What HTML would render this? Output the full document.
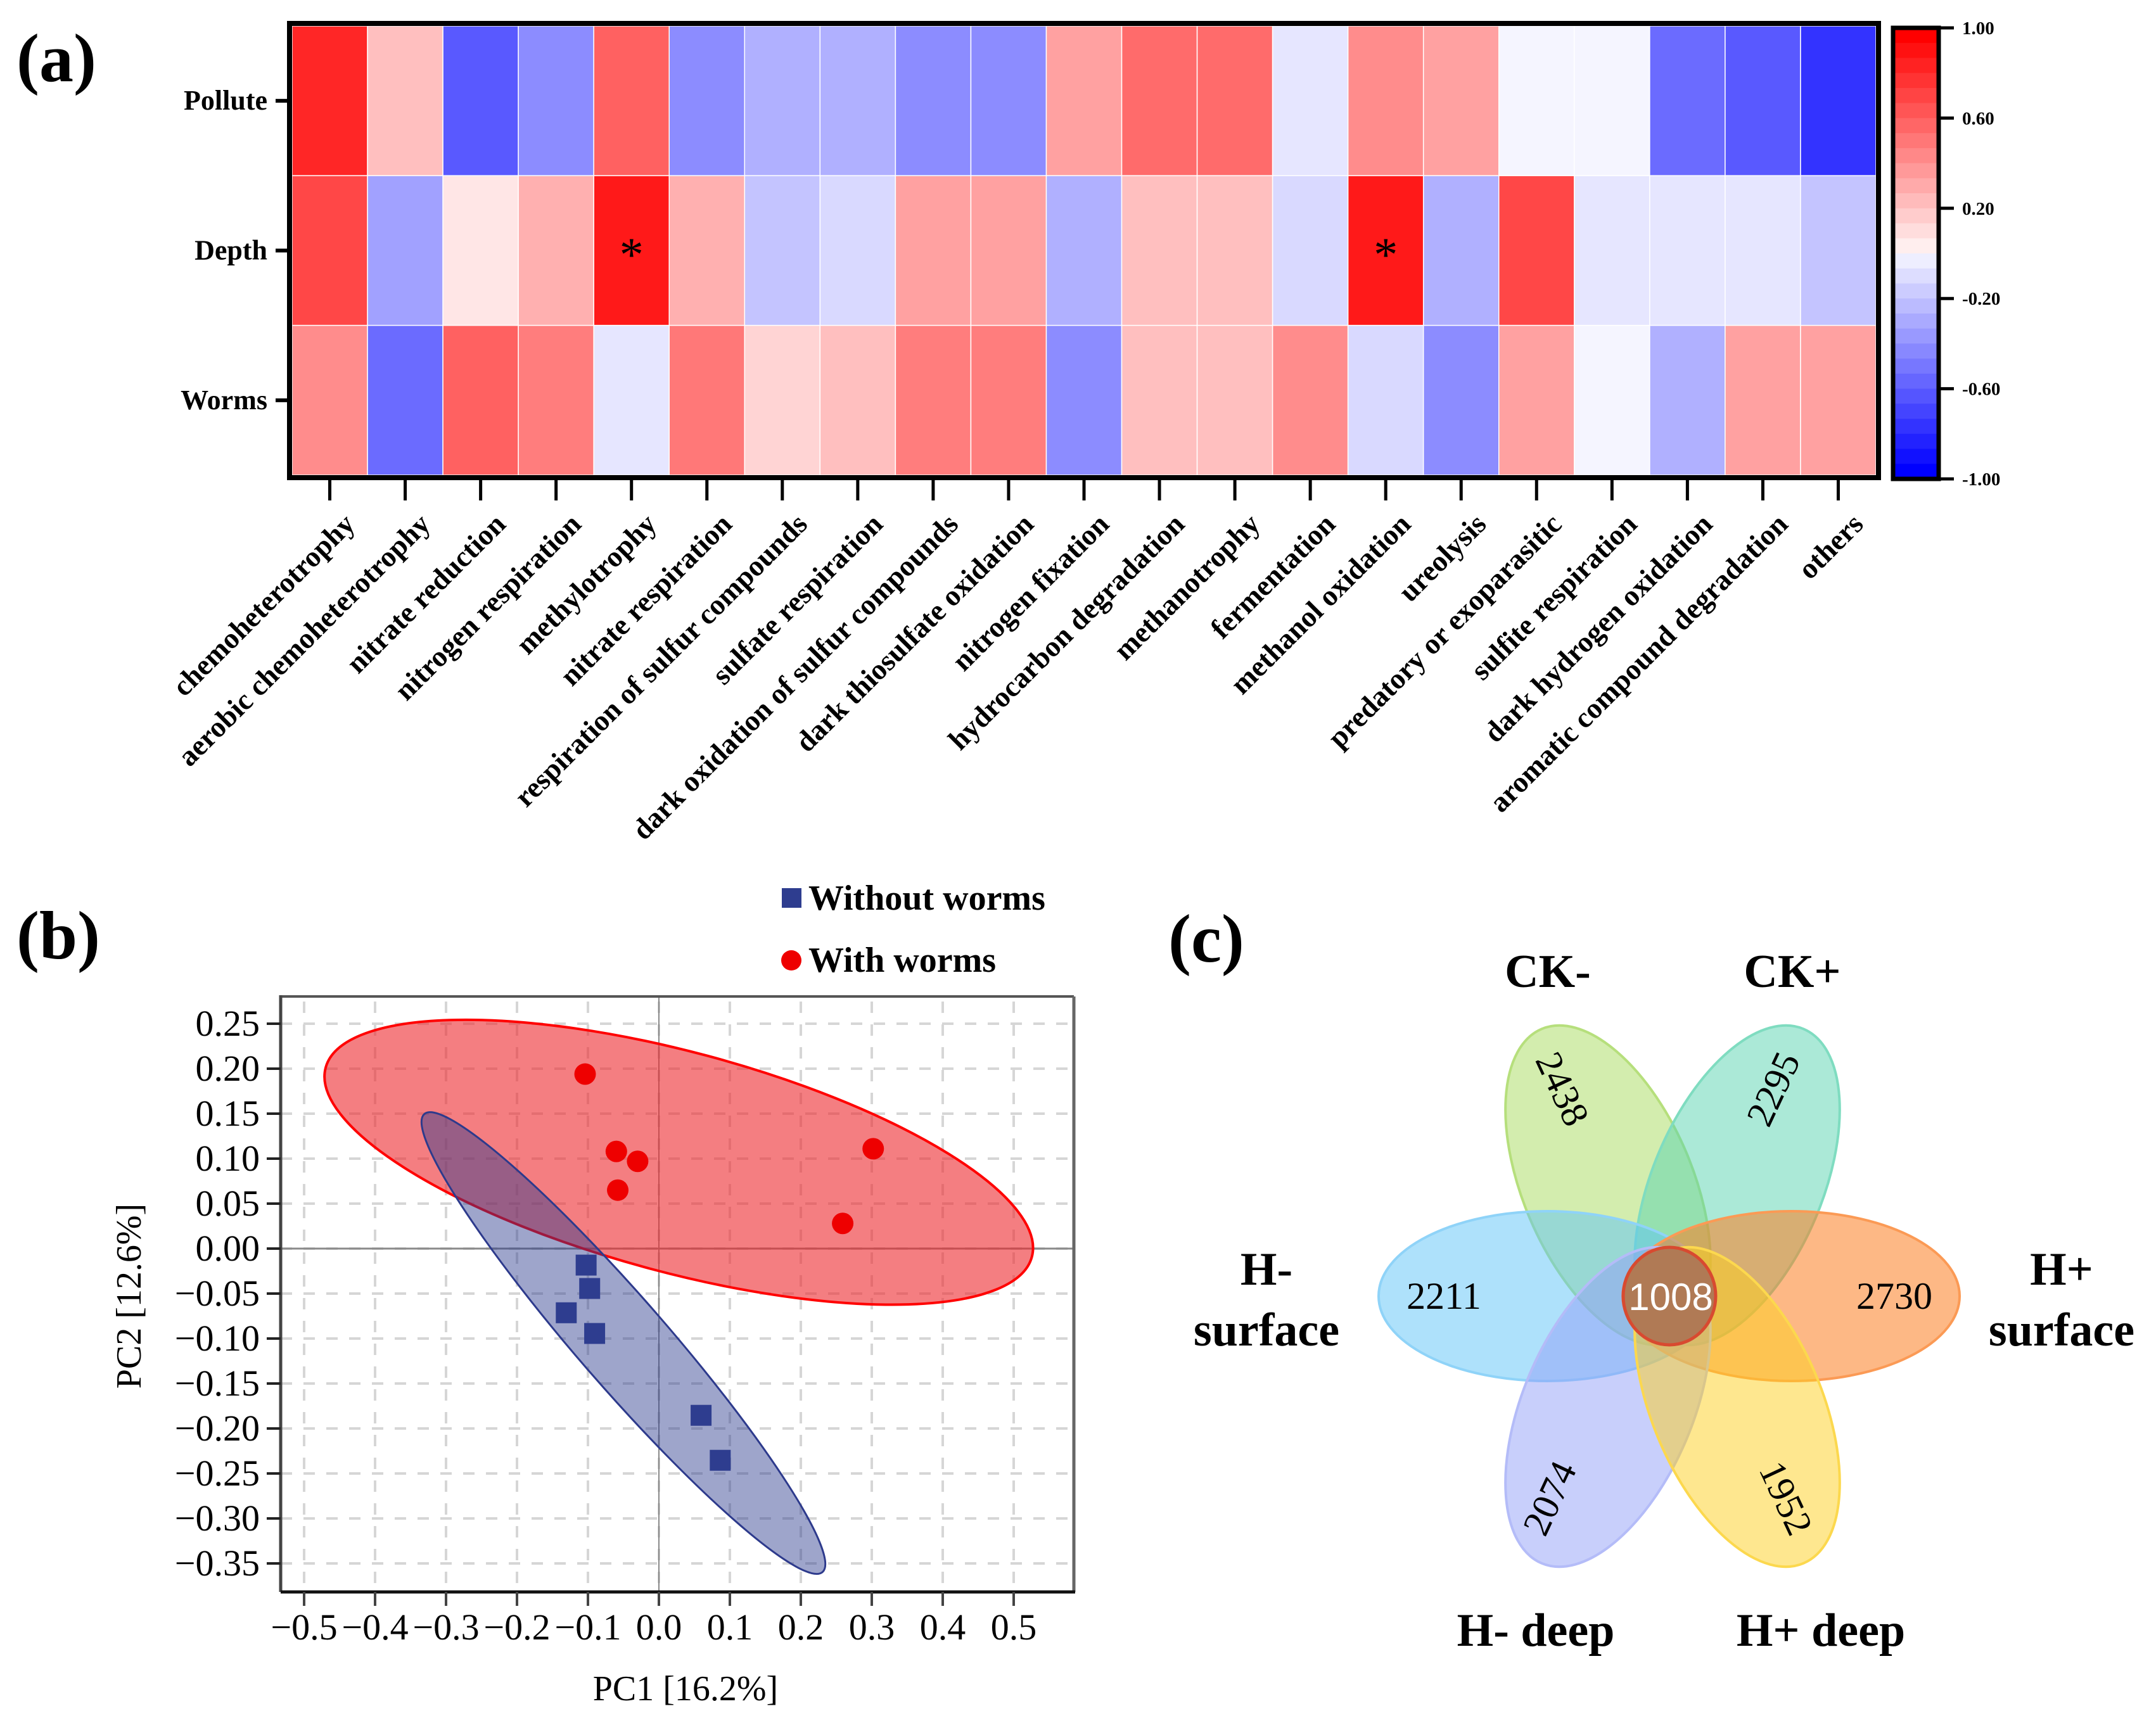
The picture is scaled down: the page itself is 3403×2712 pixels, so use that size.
<!DOCTYPE html>
<html><head><meta charset="utf-8"><style>
html,body{margin:0;padding:0;background:#fff;}
svg{display:block;font-family:"Liberation Serif",serif;}
</style></head>
<body>
<svg id="fig" width="3403" height="2712" viewBox="0 0 3403 2712" xmlns="http://www.w3.org/2000/svg">
<g id="panelA"></g>
<g id="panelB"></g>
<g id="panelC"></g>
</svg>
<script>
const NS='http://www.w3.org/2000/svg';
// ---------- Heatmap data ----------
const categories=["chemoheterotrophy","aerobic chemoheterotrophy","nitrate reduction","nitrogen respiration","methylotrophy","nitrate respiration","respiration of sulfur compounds","sulfate respiration","dark oxidation of sulfur compounds","dark thiosulfate oxidation","nitrogen fixation","hydrocarbon degradation","methanotrophy","fermentation","methanol oxidation","ureolysis","predatory or exoparasitic","sulfite respiration","dark hydrogen oxidation","aromatic compound degradation","others"];
const rowLabels=["Pollute","Depth","Worms"];
const pollute=[0.85,0.25,-0.65,-0.45,0.62,-0.45,-0.31,-0.31,-0.45,-0.45,0.37,0.58,0.58,-0.1,0.45,0.37,-0.04,-0.04,-0.58,-0.65,-0.8];
const depth=[0.72,-0.37,0.1,0.31,0.9,0.31,-0.23,-0.15,0.37,0.37,-0.31,0.25,0.25,-0.15,0.9,-0.31,0.72,-0.1,-0.1,-0.1,-0.23];
const worms=[0.45,-0.58,0.62,0.51,-0.1,0.53,0.17,0.25,0.51,0.51,-0.45,0.25,0.25,0.45,-0.15,-0.45,0.37,-0.04,-0.31,0.37,0.37];
const significant=[[1,4],[1,14]];
const cbTicks=["1.00","0.60","0.20","-0.20","-0.60","-1.00"];
const cbTickValues=[1,0.6,0.2,-0.2,-0.6,-1];
// ---------- PCA data ----------
const xTicks=[-0.5,-0.4,-0.3,-0.2,-0.1,0.0,0.1,0.2,0.3,0.4,0.5];
const yTicks=[0.25,0.20,0.15,0.10,0.05,0.00,-0.05,-0.10,-0.15,-0.20,-0.25,-0.30,-0.35];
const withX=[-0.104,-0.060,-0.030,-0.058,0.302,0.259];
const withY=[0.194,0.108,0.097,0.065,0.111,0.028];
const withoutX=[-0.103,-0.098,-0.131,-0.091,0.059,0.086];
const withoutY=[-0.018,-0.044,-0.071,-0.094,-0.185,-0.235];
// ---------- Venn data ----------
const vennSets=["CK-","CK+","H- surface","H+ surface","H- deep","H+ deep"];
const vennCounts=[2438,2295,2211,2730,2074,1952];
const vennCore=[1008];

function el(tag,attrs,parent,text){const e=document.createElementNS(NS,tag);for(const k in attrs)e.setAttribute(k,attrs[k]);if(text!==undefined)e.textContent=text;parent.appendChild(e);return e;}
function cmap(v){v=Math.max(-1,Math.min(1,v));const c=Math.round(255*(1-Math.abs(v)));return v>=0?`rgb(255,${c},${c})`:`rgb(${c},${c},255)`;}

// ===== Panel A =====
const A=document.getElementById('panelA');
const hx0=461,hy0=41,hw=2500,hh=709;
const cw=hw/categories.length, rh=hh/rowLabels.length;
const xCell=i=>hx0+i*cw, yCell=j=>hy0+j*rh;
const rowsData=[pollute,depth,worms];
let t=el('text',{x:26,y:128,'font-size':108,'font-weight':'bold'},A,'(a)');

rowsData.forEach((row,j)=>{row.forEach((v,i)=>{
  const r=el('rect',{x:xCell(i),y:yCell(j),width:cw,height:rh,fill:cmap(v),stroke:'#fff','stroke-width':1.5},A);
  
  
});});
significant.forEach(([j,i])=>{
  const s=el('text',{x:xCell(i)+cw/2,y:yCell(j)+rh/2+32,'font-size':76,'text-anchor':'middle'},A,'*');
  
  
});
let fr=el('rect',{x:hx0-4,y:hy0-4,width:hw+8,height:hh+8,fill:'none',stroke:'#000','stroke-width':8},A);

rowLabels.forEach((lab,j)=>{
  const cy=yCell(j)+rh/2;
  el('line',{x1:435,x2:457,y1:cy,y2:cy,stroke:'#000','stroke-width':6},A);
  const tt=el('text',{x:422,y:cy+14,'font-size':44,'font-weight':'bold','text-anchor':'end'},A,lab);
  
  
});
categories.forEach((c,i)=>{
  const cx=xCell(i)+cw/2;
  el('line',{x1:cx,x2:cx,y1:755,y2:790,stroke:'#000','stroke-width':5},A);
  const tt=el('text',{x:cx+42,y:830,'font-size':46,'font-weight':'bold','text-anchor':'end',transform:`rotate(-45 ${cx+42} 830)`},A,c);
  
  
});
// colorbar
const cbx=2988,cby=44,cbw=72,cbh=712,nb=30;
for(let k=0;k<nb;k++){
  const v=k<15?1-k/15:-(k-14)/15;
  const r=el('rect',{x:cbx,y:cby+k*cbh/nb,width:cbw,height:cbh/nb+0.5,fill:cmap(v)},A);
  
  
}
let cbf=el('rect',{x:cbx,y:cby,width:cbw,height:cbh,fill:'none',stroke:'#000','stroke-width':7},A);

cbTicks.forEach((lab,k)=>{
  const y=cby+(1-cbTickValues[k])/2*cbh;
  el('line',{x1:cbx+cbw,x2:cbx+cbw+24,y1:y,y2:y,stroke:'#000','stroke-width':5},A);
  const tt=el('text',{x:3097,y:y+10,'font-size':29,'font-weight':'bold'},A,lab);
  
  
});

// ===== Panel B =====
const B=document.getElementById('panelB');
const sx=v=>1040+v*1120, sy=v=>1971-v*1420;
const bx0=443,bx1=1695,by0=1573,by1=2513;
t=el('text',{x:26,y:1513,'font-size':108,'font-weight':'bold'},B,'(b)');

xTicks.forEach(v=>{el('line',{x1:sx(v),x2:sx(v),y1:by0+8,y2:by1,stroke:'#d6d6d6','stroke-width':4,'stroke-dasharray':'18 18'},B);});
yTicks.forEach(v=>{el('line',{x1:bx0,x2:bx1,y1:sy(v),y2:sy(v),stroke:'#d6d6d6','stroke-width':4,'stroke-dasharray':'18 18'},B);});
el('line',{x1:bx0,x2:bx1,y1:sy(0),y2:sy(0),stroke:'#8a8a8a','stroke-width':3},B);
el('line',{x1:sx(0),x2:sx(0),y1:by0,y2:by1,stroke:'#8a8a8a','stroke-width':2},B);
let ell=el('ellipse',{cx:sx(0.028),cy:sy(0.096),rx:577,ry:174,transform:`rotate(15 ${sx(0.028)} ${sy(0.096)})`,fill:'rgba(236,40,45,0.6)',stroke:'#f00','stroke-width':4},B);

ell=el('ellipse',{cx:sx(-0.05),cy:sy(-0.105),rx:479,ry:70,transform:`rotate(49 ${sx(-0.05)} ${sy(-0.105)})`,fill:'rgba(40,55,140,0.45)',stroke:'#2d3a8c','stroke-width':3},B);

withoutX.forEach((x,i)=>{
  const p=el('rect',{x:sx(x)-16,y:sy(withoutY[i])-16,width:33,height:33,fill:'#2e3d8f'},B);
  
  
});
withX.forEach((x,i)=>{
  const p=el('circle',{cx:sx(x),cy:sy(withY[i]),r:17,fill:'#ee0000'},B);
  
  
});
el('line',{x1:bx0,x2:bx1,y1:by0,y2:by0,stroke:'#555','stroke-width':4},B);
el('line',{x1:bx1,x2:bx1,y1:by0,y2:by1,stroke:'#666','stroke-width':5},B);
el('line',{x1:bx0,x2:bx0,y1:by0-2,y2:by1,stroke:'#444','stroke-width':5},B);
el('line',{x1:bx0,x2:bx1+2,y1:by1,y2:by1,stroke:'#111','stroke-width':5},B);
xTicks.forEach(v=>{
  el('line',{x1:sx(v),x2:sx(v),y1:by1,y2:by1+22,stroke:'#444','stroke-width':4},B);
  const tt=el('text',{x:sx(v),y:2588,'font-size':58,'text-anchor':'middle'},B,(v<0?'\u2212':'')+Math.abs(v).toFixed(1));
  
  
});
yTicks.forEach(v=>{
  el('line',{x1:bx0-22,x2:bx0,y1:sy(v),y2:sy(v),stroke:'#222','stroke-width':4},B);
  const tt=el('text',{x:410,y:sy(v)+19,'font-size':58,'text-anchor':'end'},B,(v<0?'\u2212':'')+Math.abs(v).toFixed(2));
  
  
});
t=el('text',{x:1082,y:2684,'font-size':56,'text-anchor':'middle'},B,'PC1 [16.2%]');

t=el('text',{x:222,y:2046,'font-size':56,'text-anchor':'middle',transform:'rotate(-90 222 2046)'},B,'PC2 [12.6%]');

t=el('rect',{x:1234,y:1402,width:31,height:31,fill:'#2e3d8f'},B);

t=el('text',{x:1276,y:1436,'font-size':56,'font-weight':'bold'},B,'Without worms');

t=el('circle',{cx:1249,cy:1516,r:16,fill:'#ee0000'},B);

t=el('text',{x:1276,y:1534,'font-size':56,'font-weight':'bold'},B,'With worms');


// ===== Panel C =====
const C=document.getElementById('panelC');
t=el('text',{x:1844,y:1518,'font-size':108,'font-weight':'bold'},C,'(c)');

const petals=[
 {cx:2538,cy:1871,rx:134,ry:268,rot:-23,fill:'rgba(168,220,94,0.5)',st:'#b6df7c'},
 {cx:2742,cy:1871,rx:134,ry:268,rot:23,fill:'rgba(87,212,176,0.5)',st:'#7fdcc0'},
 {cx:2442,cy:2046,rx:266,ry:134,rot:0,fill:'rgba(94,195,248,0.5)',st:'#8fd3f8'},
 {cx:2827,cy:2046,rx:266,ry:134,rot:0,fill:'rgba(251,125,32,0.55)',st:'#fb9a55'},
 {cx:2538,cy:2221,rx:134,ry:268,rot:23,fill:'rgba(145,159,248,0.5)',st:'#b4bcf8'},
 {cx:2742,cy:2221,rx:134,ry:268,rot:-23,fill:'rgba(253,208,32,0.5)',st:'#fcd84e'}];
petals.forEach((p,i)=>{
  const e=el('ellipse',{cx:p.cx,cy:p.cy,rx:p.rx,ry:p.ry,transform:`rotate(${p.rot} ${p.cx} ${p.cy})`,fill:p.fill,stroke:p.st,'stroke-width':4},C);
  
  
});
t=el('ellipse',{cx:2635,cy:2046,rx:73,ry:77,fill:'#b07a55',stroke:'#d84a30','stroke-width':5},C);

const numPos=[[2466,1719,65],[2799,1719,-65],[2279,2046,0],[2990,2046,0],[2446,2365,-65],[2819,2365,65]];
vennCounts.forEach((n,i)=>{
  const [x,y,r]=numPos[i];
  const tt=el('text',{x:x,y:y+20,'font-size':60,'text-anchor':'middle',transform:`rotate(${r} ${x} ${y})`},C,String(n));
  
  
});
t=el('text',{x:2637,y:2068,'font-size':60,'text-anchor':'middle',fill:'#fff','font-family':'Liberation Sans, sans-serif'},C,String(vennCore[0]));

const labPos=[[2443,1558],[2829,1558],[1999,2028],[3254,2028],[2424,2598],[2874,2598]];
vennSets.forEach((s,i)=>{
  const [x,y]=labPos[i];
  const parts=(i===2||i===3)?[s.split(' ')[0],s.split(' ')[1]]:[s];
  const tt=el('text',{x:x,y:y,'font-size':74,'font-weight':'bold','text-anchor':'middle'},C);
  parts.forEach((pt,k)=>{el('tspan',{x:x,dy:k?96:0},tt,pt);});
  
  
});
</script>
</body></html>
